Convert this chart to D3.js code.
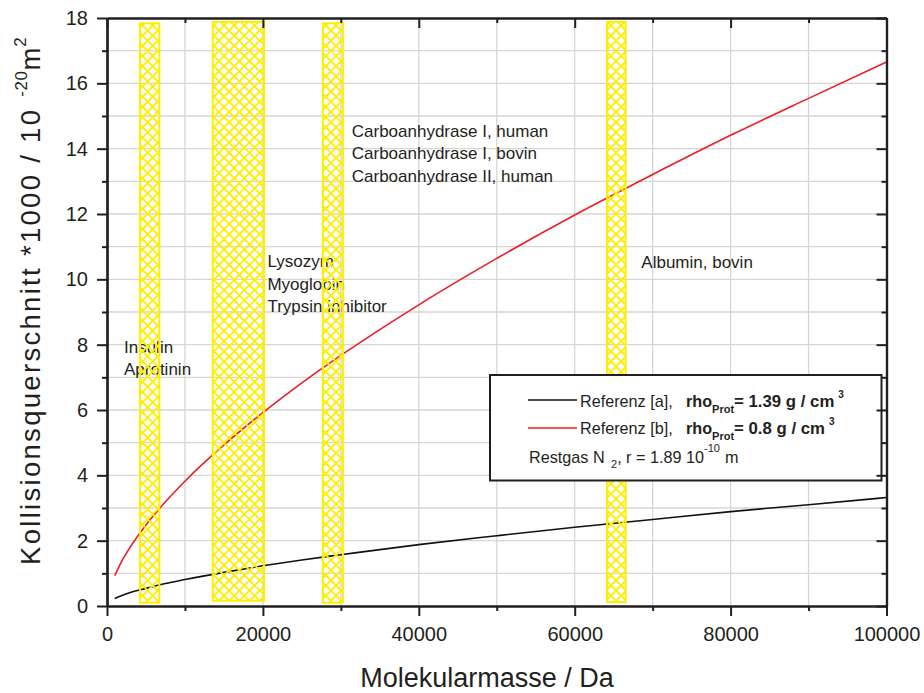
<!DOCTYPE html>
<html>
<head>
<meta charset="utf-8">
<script src="https://cdn.jsdelivr.net/npm/d3@7"></script>
<style>
  body { margin: 0; background: #fff; }
  text { font-family: "Liberation Sans", Arial, sans-serif; fill: #231f20; }
</style>
</head>
<body>
<svg id="chart" width="924" height="693"></svg>
<script>
// Molecular mass (Da) at which both reference curves are sampled
const massDa = [1000, 2000, 3000, 5000, 7500, 10000, 15000, 20000, 25000, 30000,
                40000, 50000, 60000, 70000, 80000, 90000, 100000];
// Collision cross section *1000 / 10^-20 m^2
const refA = [0.23, 0.33, 0.41, 0.54, 0.69, 0.81, 1.03, 1.23, 1.41, 1.57,
              1.88, 2.15, 2.41, 2.65, 2.89, 3.10, 3.32];   // rho = 1.39 g/cm3
const refB = [0.93, 1.42, 1.81, 2.48, 3.19, 3.82, 4.93, 5.92, 6.83, 7.67,
              9.22, 10.64, 11.97, 13.21, 14.41, 15.54, 16.65]; // rho = 0.8 g/cm3

// Protein mass bands (hatched)
const bandStart  = [4240, 13570, 27690, 64150];
const bandEnd    = [6710, 20150, 30260, 66530];
const bandTop    = [17.84, 17.88, 17.84, 17.88];
const bandBottom = [0.10, 0.16, 0.10, 0.12];

// Protein names next to the bands (anchor = first line, in data units)
const proteinNames = [
  ["Carboanhydrase I, human", "Carboanhydrase I, bovin", "Carboanhydrase II, human"],
  ["Lysozym", "Myoglobin", "Trypsin inhibitor"],
  ["Insulin", "Aprotinin"],
  ["Albumin, bovin"]
];
const proteinMass  = [31400, 20580, 2180, 68550];
const proteinValue = [14.37, 10.37, 7.75, 10.35];

const xTicks = [0, 20000, 40000, 60000, 80000, 100000];
const xMinorTicks = [10000, 30000, 50000, 70000, 90000];
const yTicks = [0, 2, 4, 6, 8, 10, 12, 14, 16, 18];
const yMinorTicks = [1, 3, 5, 7, 9, 11, 13, 15, 17];

const svg = d3.select("#chart");
const plotL = 107, plotR = 886.5, plotT = 18, plotB = 606;
const x = d3.scaleLinear().domain([0, 100000]).range([plotL, plotR]);
const y = d3.scaleLinear().domain([0, 18]).range([plotB, plotT]);

const ink = "#231f20";
const yellow = "#ffee00";

// hatch pattern: 45° cross-hatch
const defs = svg.append("defs");
const s = 7.2;
const pat = defs.append("pattern")
  .attr("id", "xhatch")
  .attr("patternUnits", "userSpaceOnUse")
  .attr("width", s).attr("height", s)
  .attr("patternTransform", "rotate(45)");
pat.append("path")
  .attr("d", `M${s/2},0 V${s} M0,${s/2} H${s}`)
  .attr("stroke", yellow).attr("stroke-width", 1.8).attr("fill", "none");

// grid
const grid = svg.append("g");
grid.selectAll("line.gx").data(d3.range(10000, 100000, 10000)).join("line")
  .attr("x1", d => x(d)).attr("x2", d => x(d)).attr("y1", plotT).attr("y2", plotB)
  .attr("stroke", "#d6d6d6").attr("stroke-width", 1.3);
grid.selectAll("line.gy").data(d3.range(1, 18)).join("line")
  .attr("y1", d => y(d)).attr("y2", d => y(d)).attr("x1", plotL).attr("x2", plotR)
  .attr("stroke", "#d6d6d6").attr("stroke-width", 1.3);

// protein labels
const lineH = 22.6;
proteinNames.forEach((names, i) => {
  const t = svg.append("text").attr("font-size", 17);
  names.forEach((n, j) => {
    t.append("tspan").attr("x", x(proteinMass[i]))
      .attr("y", y(proteinValue[i]) + j * lineH).text(n);
  });
});

// curves
const line = d3.line().curve(d3.curveMonotoneX);
svg.append("path")
  .attr("d", line(massDa.map((m, i) => [x(m), y(refA[i])])))
  .attr("fill", "none").attr("stroke", "#111").attr("stroke-width", 1.6);
svg.append("path")
  .attr("d", line(massDa.map((m, i) => [x(m), y(refB[i])])))
  .attr("fill", "none").attr("stroke", "#ee1c24").attr("stroke-width", 1.6);

// hatched bands
svg.append("g").selectAll("rect").data(bandStart).join("rect")
  .attr("x", d => x(d))
  .attr("y", (d, i) => y(bandTop[i]))
  .attr("width", (d, i) => x(bandEnd[i]) - x(d))
  .attr("height", (d, i) => y(bandBottom[i]) - y(bandTop[i]))
  .attr("fill", "url(#xhatch)")
  .attr("stroke", yellow).attr("stroke-width", 2);

// legend
const lg = svg.append("g");
lg.append("rect").attr("x", 490).attr("y", 375).attr("width", 391.5).attr("height", 105.5)
  .attr("fill", "#fff").attr("stroke", ink).attr("stroke-width", 2);
lg.append("line").attr("x1", 528).attr("x2", 577).attr("y1", 400).attr("y2", 400)
  .attr("stroke", "#111").attr("stroke-width", 1.6);
lg.append("line").attr("x1", 528).attr("x2", 577).attr("y1", 428).attr("y2", 428)
  .attr("stroke", "#ee1c24").attr("stroke-width", 1.6);

function legendRow(yb, refTag, rhoVal) {
  const t = lg.append("text").attr("x", 580).attr("y", yb).attr("font-size", 16.2);
  t.append("tspan").text(`Referenz [${refTag}],`);
  t.append("tspan").attr("x", 686).attr("font-weight", "bold").text("rho");
  t.append("tspan").attr("font-weight", "bold").attr("font-size", 11).attr("dy", 6).text("Prot");
  t.append("tspan").attr("font-weight", "bold").attr("font-size", 16.8).attr("dy", -6)
    .text(`= ${rhoVal} g / cm`);
  t.append("tspan").attr("font-weight", "bold").attr("font-size", 10).attr("dx", 4)
    .attr("dy", -9).text("3");
}
legendRow(407, "a", "1.39");
legendRow(434, "b", "0.8");

const rg = lg.append("text").attr("x", 529).attr("y", 463).attr("font-size", 16.2);
rg.append("tspan").text("Restgas N");
rg.append("tspan").attr("x", 611).attr("font-size", 11).attr("dy", 5).text("2");
rg.append("tspan").attr("dy", -5).text(", r = 1.89 10");
rg.append("tspan").attr("x", 704).attr("font-size", 11).attr("dy", -11).text("-10");
rg.append("tspan").attr("x", 725).attr("dy", 11).text("m");

// axes
function styleAxis(g) {
  g.selectAll("path.domain").attr("stroke", ink).attr("stroke-width", 2.2);
  g.selectAll(".tick line").attr("stroke", ink).attr("stroke-width", 2);
  g.selectAll(".tick text").attr("font-size", 20)
    .attr("font-family", "'Liberation Sans', Arial, sans-serif").attr("fill", ink);
}
const gx = svg.append("g").attr("transform", `translate(0,${plotB})`)
  .call(d3.axisBottom(x).tickValues(xTicks).tickSize(10).tickSizeOuter(0).tickPadding(11)
    .tickFormat(d3.format("d")));
styleAxis(gx);
styleAxis(svg.append("g").attr("transform", `translate(0,${plotB})`)
  .call(d3.axisBottom(x).tickValues(xMinorTicks).tickSize(5).tickSizeOuter(0).tickFormat("")));
styleAxis(svg.append("g").attr("transform", `translate(0,${plotT})`)
  .call(d3.axisTop(x).tickValues(xTicks).tickSize(-10).tickSizeOuter(0).tickFormat("")));
styleAxis(svg.append("g").attr("transform", `translate(0,${plotT})`)
  .call(d3.axisTop(x).tickValues(xMinorTicks).tickSize(-5).tickSizeOuter(0).tickFormat("")));

const gy = svg.append("g").attr("transform", `translate(${plotL},0)`)
  .call(d3.axisLeft(y).tickValues(yTicks).tickSize(10).tickSizeOuter(0).tickPadding(9));
styleAxis(gy);
styleAxis(svg.append("g").attr("transform", `translate(${plotL},0)`)
  .call(d3.axisLeft(y).tickValues(yMinorTicks).tickSize(5).tickSizeOuter(0).tickFormat("")));
styleAxis(svg.append("g").attr("transform", `translate(${plotR},0)`)
  .call(d3.axisRight(y).tickValues(yTicks).tickSize(-10).tickSizeOuter(0).tickFormat("")));
styleAxis(svg.append("g").attr("transform", `translate(${plotR},0)`)
  .call(d3.axisRight(y).tickValues(yMinorTicks).tickSize(-5).tickSizeOuter(0).tickFormat("")));

// axis titles
svg.append("text").attr("x", 487).attr("y", 687)
  .attr("text-anchor", "middle").attr("font-size", 27).text("Molekularmasse / Da");

const yt = svg.append("text").attr("transform", "translate(40,565) rotate(-90)")
  .attr("font-size", 27.5).attr("letter-spacing", 2.3);
yt.append("tspan").text("Kollisionsquerschnitt *1000 / 10");
yt.append("tspan").attr("dx", 11).attr("dy", -13).attr("font-size", 17)
  .attr("letter-spacing", 0.5).text("-20");
yt.append("tspan").attr("dy", 13).attr("letter-spacing", 0).text("m");
yt.append("tspan").attr("dx", 1).attr("dy", -14).attr("font-size", 17).text("2");
</script>
</body>
</html>
